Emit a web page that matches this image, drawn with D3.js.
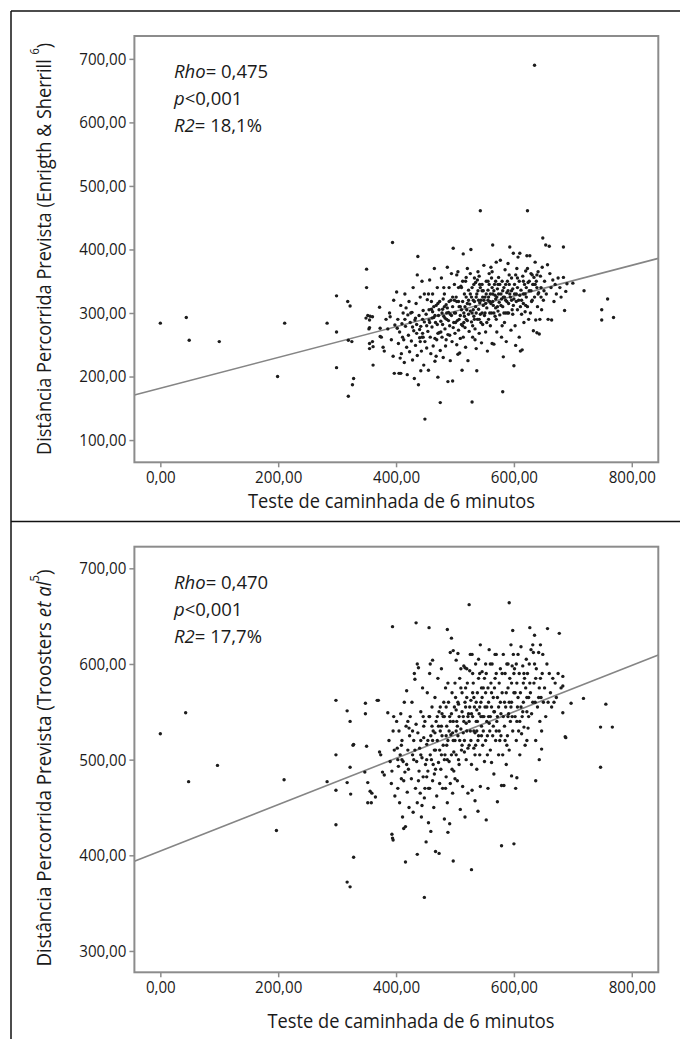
<!DOCTYPE html>
<html>
<head>
<meta charset="utf-8">
<script src="https://cdn.jsdelivr.net/npm/d3@7"></script>
<style>
  html, body { margin: 0; padding: 0; background: #fff; }
  svg { display: block; }
  text { font-family: "Open Sans", "Noto Sans", sans-serif; fill: #1a1a1a; }
</style>
</head>
<body>
<svg id="chart" width="680" height="1039"></svg>
<script>
// ---------------- DATA ----------------
const walkTicks = [0, 200, 400, 600, 800];
const enrightTicks = [100, 200, 300, 400, 500, 600, 700];
const troostersTicks = [300, 400, 500, 600, 700];

const xTitle = "Teste de caminhada de 6 minutos";

const enrightStats = ["0,475", "0,001", "18,1%"];
const troostersStats = ["0,470", "0,001", "17,7%"];

// regression line end points [walk, predicted]
const enrightFit = [[-44, 171], [845, 386]];
const troostersFit = [[-44, 393.7], [845, 609.4]];

// [6MWT distance, predicted distance (Enright & Sherrill)]
const enrightPoints = [
[0,284],[44,293],[49,257],[100,255],[199,200],[211,284],[283,284],[299,327],[299,270],[299,214],
[318,318],[322,311],[319,257],[325,255],[326,187],[328,197],[319,169],[350,369],[350,340],[352,296],
[356,295],[355,277],[361,218],[355,252],[360,255],[372,309],[373,276],[373,263],[349,292],[355,289],
[360,294],[354,275],[361,247],[355,244],[390,294],
[375,262],[378,246],[383,290],[386,275],[389,300],[392,258],[394,411],[395,232],[396,320],[398,281],[380,240],[397,205],
[401,333],[403,290],[404,252],[405,205],[406,270],[408,312],[409,236],[410,283],[412,300],[413,258],[414,222],[415,330],
[416,279],[418,246],[419,203],[420,297],[421,265],[422,318],[423,239],[424,285],[402,276],[407,229],[411,262],[417,308],[408,205],
[426,256],[427,301],[428,226],[429,340],[430,272],[431,197],[432,289],[433,249],[434,315],[435,268],[436,233],[437,389],
[438,187],[439,296],[440,261],[441,325],[442,279],[443,240],[444,350],[445,268],[446,304],[447,218],[448,286],[449,255],
[449,133],[428,278],[436,360],[442,209],[446,262],[433,292],[440,274],[448,330],[444,262],[441,255],
[451,298],[452,245],[453,321],[454,271],[455,210],[456,289],[457,352],[458,262],[459,236],[460,306],[461,278],[462,330],
[463,248],[464,293],[465,370],[466,224],[467,285],[468,312],[469,258],[470,340],[471,199],[472,296],[473,269],[474,318],
[475,159],[475,241],[457,285],[462,302],[466,260],[470,282],[473,305],[455,330],[468,232],[464,310],[460,318],
[476,287],[477,355],[478,262],[479,306],[480,230],[481,295],[482,330],[483,275],[484,248],[485,313],[486,290],[487,372],
[488,192],[488,266],[489,301],[490,340],[491,280],[492,225],[493,320],[494,296],[495,255],[496,193],[496,310],[497,402],
[498,285],[499,345],[500,268],[478,300],[483,292],[487,308],[492,298],[497,277],[485,258],[490,318],[480,322],[494,362],[482,310],[499,300],
[501,300],[502,325],[503,250],[504,288],[505,365],[506,273],[507,310],[508,237],[509,296],[510,342],[511,282],[512,210],
[513,318],[514,393],[514,262],[515,300],[516,330],[517,277],[518,246],[519,356],[520,305],[521,288],[522,225],[523,336],
[524,271],[525,314],[503,318],[507,290],[511,305],[515,285],[519,325],[523,298],[509,260],[517,310],[505,235],[521,370],[513,280],[506,340],[518,350],
[526,303],[527,400],[528,286],[529,160],[529,340],[530,262],[531,320],[532,295],[533,355],[534,275],[535,310],[536,244],
[537,209],[537,330],[538,290],[539,365],[540,306],[541,268],[542,345],[543,461],[543,298],[544,320],[545,253],[546,335],
[547,282],[548,312],[549,375],[550,296],[528,325],[532,345],[536,300],[540,320],[544,285],[548,335],[530,280],[538,352],
[546,300],[534,258],[542,316],[526,362],[535,348],[541,358],[547,325],[533,318],
[551,325],[552,270],[553,350],[554,308],[555,240],[556,336],[557,290],[558,362],[559,318],[560,280],[561,372],[562,300],
[563,252],[564,407],[564,330],[565,312],[566,251],[567,345],[568,295],[569,322],[570,380],[571,270],[572,338],[573,303],
[574,356],[575,317],[552,315],[556,320],[560,330],[564,318],[568,328],[572,310],[558,345],[566,300],[574,330],[554,285],
[562,355],[570,290],[557,325],[563,340],[569,350],
[576,297],[577,383],[578,330],[579,262],[580,350],[581,176],[581,310],[582,231],[583,340],[584,285],[585,368],[586,320],
[587,255],[588,332],[589,300],[590,378],[591,315],[592,345],[593,404],[594,325],[595,273],[596,355],[597,305],[598,338],
[599,394],[600,217],[600,322],[578,312],[584,325],[590,335],[596,320],[586,300],[592,360],[580,280],[598,298],[582,325],[588,318],
[601,345],[602,280],[603,249],[604,330],[605,370],[606,305],[607,388],[608,320],[609,262],[610,394],[611,240],[612,336],
[613,298],[614,242],[615,358],[616,315],[617,285],[618,345],[619,302],[620,366],[621,325],[622,390],[623,461],[623,310],
[624,348],[625,290],[604,318],[610,328],[616,330],[606,355],[620,312],
[626,335],[627,390],[628,300],[629,362],[630,318],[632,345],[633,272],[634,356],[635,690],[635,325],[636,380],[637,289],
[638,350],[639,269],[640,310],[641,365],[642,332],[643,267],[644,290],[645,358],[646,340],[647,305],[648,372],[649,418],
[650,320],[631,360],[639,340],
[652,350],[654,407],[655,330],[657,376],[658,290],[660,405],[661,362],[663,340],[664,289],[666,352],[668,318],[670,345],
[672,330],[675,355],[678,340],[680,325],[684,356],[684,404],[686,304],[688,334],[690,346],[700,347],
[719,335],[749,305],[749,289],[759,322],[769,293],
[466,296],[471,315],[476,270],[481,340],[486,300],[491,265],[496,325],[501,285],[506,318],[511,340],[516,295],[521,315],
[526,330],[531,305],[536,325],[541,290],[546,345],[551,300],[556,350],[561,315],[566,335],[571,325],[576,345],[581,335],
[586,345],[591,300],[596,335],[601,330],[606,340],[611,310],[616,350],[621,340],[626,350],[631,320],[636,345],[641,330],
[646,325],[651,335],[456,305],[461,292],[471,268],[479,282],[489,288],[499,320],[509,310],[519,290],[529,300],[539,335],
[549,320],[559,300],[569,308],[579,322],[589,350],[599,312],[609,350],[619,330],[629,335],[639,360],[445,290],[452,280],
[435,282],[425,300],[415,290],[503,360],[513,350],[523,320],[533,290],[543,340],[553,330],[563,365],[573,345],[583,300],
[593,330],[603,360],[613,320],[623,370],[633,345]
];

// [6MWT distance, predicted distance (Troosters et al)]
const troostersPoints = [
[0,527],[43,549],[48,477],[97,494],[197,426],[210,479],[283,477],[298,562],[298,505],[298,468],[298,432],
[317,551],[322,540],[317,476],[322,492],[323,464],[317,372],[322,367],[328,398],[328,516],[348,559],[348,548],
[350,514],[352,476],[356,467],[352,455],[358,455],[368,562],[365,461],[347,487],[359,465],[370,562],[327,515],
[372,508],[374,505],[377,487],[380,484],[386,549],[388,520],[390,498],[392,475],[394,639],[395,530],[397,510],
[398,462],[393,488],[396,545],[394,418],[395,416],[393,422],
[401,540],[402,512],[403,470],[404,493],[405,530],[406,455],[407,505],[408,548],[409,480],[410,520],[411,440],[412,498],
[413,428],[414,560],[415,487],[416,393],[416,430],[417,535],[418,572],[419,466],[420,510],[421,490],[422,450],[423,525],
[424,545],[403,500],[409,515],[413,478],[418,495],[422,533],
[426,480],[427,560],[428,505],[429,445],[430,520],[431,590],[432,584],[433,470],[434,643],[434,537],[435,498],[436,401],
[436,455],[437,528],[438,596],[439,488],[440,512],[441,465],[442,550],[443,440],[444,502],[445,575],[446,482],[447,523],
[448,356],[448,460],[449,540],[450,495],[428,530],[432,510],[438,478],[442,520],[446,545],[449,470],[444,452],[436,600],
[451,414],[452,516],[453,570],[454,488],[455,434],[456,638],[456,545],[457,470],[458,600],[459,425],[459,525],[460,500],
[461,555],[462,604],[462,478],[463,530],[464,450],[465,510],[466,565],[467,404],[467,490],[468,540],[469,462],[470,520],
[471,585],[472,497],[473,402],[473,550],[474,475],[475,530],[454,520],[458,505],[463,495],[466,528],[470,545],[474,510],
[452,482],[461,535],[457,590],
[476,490],[477,595],[478,548],[479,470],[480,515],[481,560],[482,438],[483,505],[484,575],[485,482],[486,535],[487,636],
[487,455],[488,424],[488,520],[489,560],[490,498],[491,433],[491,545],[492,612],[492,475],[493,526],[494,627],[494,505],
[495,570],[496,465],[497,394],[497,614],[497,540],[498,488],[499,555],[500,520],[478,525],[482,500],[486,515],[490,530],
[494,548],[498,508],[480,545],[484,470],[496,528],[488,580],[500,480],[477,535],[485,555],
[501,565],[502,604],[502,505],[503,540],[504,478],[505,611],[505,525],[506,558],[507,495],[508,585],[509,448],[510,532],
[511,510],[512,570],[513,472],[514,545],[515,598],[516,520],[517,440],[517,596],[518,555],[519,500],[520,530],[521,580],
[522,465],[523,548],[524,662],[524,515],[525,593],[504,535],[508,520],[512,550],[516,508],[520,565],[524,540],[506,500],
[514,528],[518,575],[522,512],[510,595],[502,552],[519,538],
[526,530],[527,562],[528,385],[528,495],[529,468],[529,610],[530,545],[531,580],[532,512],[533,555],[534,457],[534,528],
[535,600],[536,540],[537,490],[538,570],[539,446],[539,520],[540,585],[541,548],[542,505],[543,620],[543,472],[544,560],
[545,535],[546,592],[547,515],[548,575],[549,545],[550,498],[528,548],[532,530],[536,560],[540,525],[544,545],[548,530],
[530,570],[538,540],[546,565],[534,505],[542,590],[526,610],[537,552],[545,575],
[551,555],[552,520],[553,437],[553,590],[554,540],[555,505],[556,470],[556,575],[557,560],[558,615],[559,530],[560,545],
[561,580],[562,497],[563,600],[564,525],[565,565],[566,485],[567,550],[568,610],[569,520],[570,590],[571,540],[572,456],
[572,565],[574,505],[575,580],[554,555],[558,538],[562,570],[566,550],[570,530],[574,555],[560,510],[568,585],[552,600],
[576,520],[577,595],[578,548],[579,410],[579,473],[580,570],[581,505],[582,610],[583,473],[584,535],[585,590],[586,555],
[587,495],[588,600],[589,525],[590,575],[591,548],[592,664],[592,510],[593,585],[594,540],[595,620],[596,483],[596,560],
[597,598],[598,635],[598,530],[599,610],[600,412],[600,570],[578,525],[584,560],[590,545],[596,580],[588,515],
[601,595],[602,545],[603,470],[604,520],[605,481],[605,580],[606,555],[607,610],[608,530],[609,590],[610,505],[611,570],
[612,618],[613,527],[614,545],[615,598],[616,560],[617,534],[618,585],[619,515],[620,575],[621,605],[622,550],[623,590],
[624,533],[625,565],[604,600],[610,540],[616,580],[622,520],
[626,600],[627,638],[628,570],[629,615],[630,548],[632,620],[633,612],[634,580],[635,630],[636,560],[637,478],[637,520],
[638,595],[640,555],[642,612],[643,500],[643,575],[644,540],[645,620],[646,565],[647,511],[647,530],[648,590],[649,610],[650,560],
[652,575],[654,545],[656,600],[657,637],[658,560],[660,590],[662,570],[664,555],[666,585],[668,560],[670,580],[672,565],
[675,590],[677,632],[680,575],[683,587],[683,577],[683,549],[687,524],[688,523],[697,559],
[718,564],[747,534],[747,492],[756,558],[767,534],
[442,505],[447,535],[452,500],[457,545],[462,520],[467,510],[472,535],[477,505],[482,545],[487,500],[492,540],[497,520],
[502,530],[507,545],[512,515],[517,560],[522,545],[527,520],[532,565],[537,530],[542,555],[547,545],[552,570],[557,545],
[562,555],[567,575],[572,545],[577,560],[582,545],[587,570],[592,560],[597,545],[602,570],[607,565],[612,555],[617,590],
[622,565],[627,580],[632,560],[637,585],[642,565],[455,470],[465,485],[475,555],[485,525],[495,490],[505,560],[515,540],
[525,555],[535,515],[545,525],[555,525],[565,535],[575,530],[585,520],[595,555],[605,540],[615,550],[625,545],[635,600],
[645,585],[430,500],[420,540],[410,500],[500,580],[510,575],[520,595],[530,590],[540,605],[550,585],[560,600],[570,610],
[580,590],[590,600],[600,590]
];

// ---------------- CHART ----------------
const svg = d3.select("#chart");
const fmt = d3.formatLocale({decimal: ",", thousands: ".", grouping: [3], currency: ["", ""]}).format(".2f");

// outer figure rules
svg.append("line").attr("x1", 11).attr("x2", 680).attr("y1", 11).attr("y2", 11)
  .attr("stroke", "#111").attr("stroke-width", 1.5);
svg.append("line").attr("x1", 11).attr("x2", 11).attr("y1", 11).attr("y2", 1039)
  .attr("stroke", "#111").attr("stroke-width", 1.5);
svg.append("line").attr("x1", 11).attr("x2", 680).attr("y1", 521.5).attr("y2", 521.5)
  .attr("stroke", "#111").attr("stroke-width", 1.5);

function squeeze(sel, k) {
  sel.each(function () {
    const w = this.getComputedTextLength();
    this.setAttribute("textLength", w * k);
    this.setAttribute("lengthAdjust", "spacingAndGlyphs");
  });
}

const panels = [
  {id: "a", points: enrightPoints, fit: enrightFit, ticks: enrightTicks, stats: enrightStats,
   yDomain: [65, 736], top: 36, bottom: 462.3, statY: 78,
   yTitleY: 249, yTitleLen: 412, xTitleX: 391.5, xTitleY: 508,
   yLabel: [["Distância Percorrida Prevista (Enrigth & Sherrill ", "n"], ["6", "sup"], [")", "n"]]},
  {id: "b", points: troostersPoints, fit: troostersFit, ticks: troostersTicks, stats: troostersStats,
   yDomain: [277.7, 722.6], top: 546.7, bottom: 972.3, statY: 589,
   yTitleY: 768, yTitleLen: 397, xTitleX: 411, xTitleY: 1028,
   yLabel: [["Distância Percorrida Prevista (Troosters ", "n"], ["et al", "i"], ["5", "sup"], [")", "n"]]}
];

const left = 134.4, right = 658.3;

panels.forEach(p => {
  const x = d3.scaleLinear().domain([-44, 845]).range([left, right]);
  const y = d3.scaleLinear().domain(p.yDomain).range([p.bottom, p.top]);
  const g = svg.append("g");

  g.append("clipPath").attr("id", "clip-" + p.id)
    .append("rect").attr("x", left).attr("y", p.top)
    .attr("width", right - left).attr("height", p.bottom - p.top);

  const plot = g.append("g").attr("clip-path", `url(#clip-${p.id})`);

  // regression line
  plot.append("line")
    .attr("x1", x(p.fit[0][0])).attr("y1", y(p.fit[0][1]))
    .attr("x2", x(p.fit[1][0])).attr("y2", y(p.fit[1][1]))
    .attr("stroke", "#858585").attr("stroke-width", 1.6);

  // points
  plot.selectAll("circle").data(p.points).join("circle")
    .attr("cx", d => x(d[0])).attr("cy", d => y(d[1]))
    .attr("r", 1.7).attr("fill", "#1c1c1c");

  // frame
  g.append("rect").attr("x", left).attr("y", p.top)
    .attr("width", right - left).attr("height", p.bottom - p.top)
    .attr("fill", "none").attr("stroke", "#8c8c8c").attr("stroke-width", 2);

  // axes
  const ax = g.append("g").attr("transform", `translate(0,${p.bottom})`)
    .call(d3.axisBottom(x).tickValues(walkTicks).tickFormat(fmt).tickSize(5).tickPadding(4));
  const ay = g.append("g").attr("transform", `translate(${left},0)`)
    .call(d3.axisLeft(y).tickValues(p.ticks).tickFormat(fmt).tickSize(5).tickPadding(3));
  [ax, ay].forEach(a => {
    a.select(".domain").remove();
    a.selectAll(".tick line").attr("stroke", "#8c8c8c").attr("stroke-width", 1.5);
    a.selectAll(".tick text").attr("font-family", "Open Sans").attr("font-size", 17).attr("fill", "#1a1a1a");
    squeeze(a.selectAll(".tick text"), 0.89);
  });

  // statistics annotation
  const st = g.append("g").attr("font-size", 18.5);
  const l1 = st.append("text").attr("x", 174).attr("y", p.statY);
  l1.append("tspan").attr("font-style", "italic").text("Rho");
  l1.append("tspan").text("= " + p.stats[0]);
  const l2 = st.append("text").attr("x", 174).attr("y", p.statY + 27);
  l2.append("tspan").attr("font-style", "italic").text("p");
  l2.append("tspan").text("<" + p.stats[1]);
  const l3 = st.append("text").attr("x", 174).attr("y", p.statY + 54);
  l3.append("tspan").attr("font-style", "italic").text("R2");
  l3.append("tspan").text("= " + p.stats[2]);

  // x title
  g.append("text").attr("x", p.xTitleX).attr("y", p.xTitleY)
    .attr("text-anchor", "middle").attr("font-size", 20)
    .attr("textLength", 287).attr("lengthAdjust", "spacingAndGlyphs")
    .text(xTitle);

  // y title
  const yt = g.append("text")
    .attr("transform", `translate(43,${p.yTitleY}) rotate(-90)`)
    .attr("text-anchor", "middle").attr("dominant-baseline", "central")
    .attr("font-size", 20)
    .attr("textLength", p.yTitleLen).attr("lengthAdjust", "spacingAndGlyphs");
  p.yLabel.forEach(([t, kind]) => {
    const ts = yt.append("tspan").text(t);
    if (kind === "i") ts.attr("font-style", "italic");
    if (kind === "sup") ts.attr("font-size", 12).attr("baseline-shift", "super");
  });
});
</script>
</body>
</html>
